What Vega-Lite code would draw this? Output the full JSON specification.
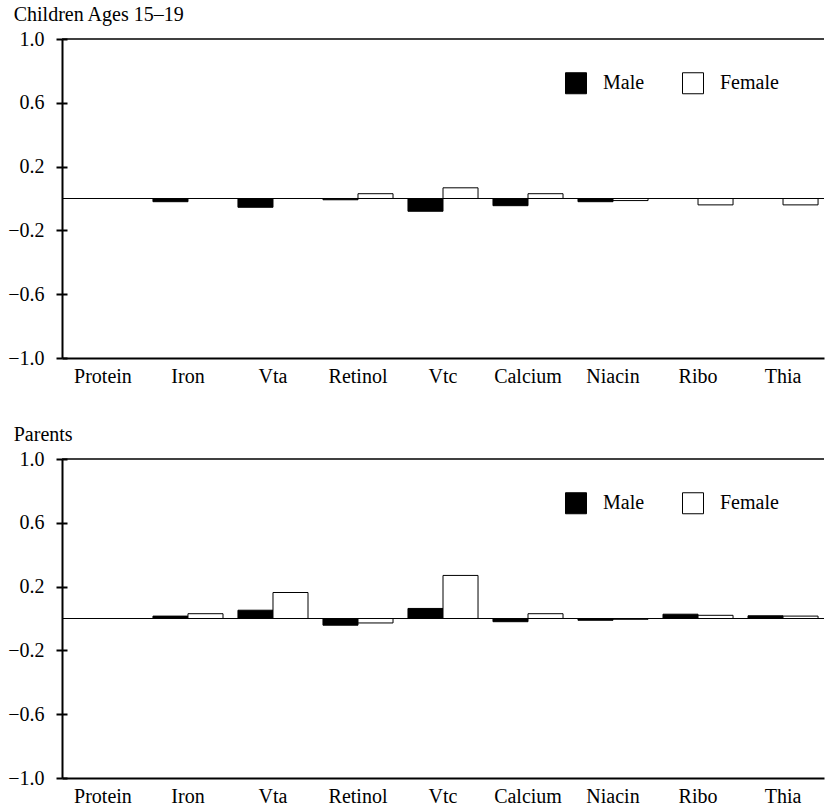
{
  "$schema": "https://vega.github.io/schema/vega-lite/v6.json",
  "padding": {"left": 7, "top": 5, "right": 0, "bottom": 0},
  "background": "white",
  "config": {
    "font": "Liberation Serif",
    "view": {"stroke": null},
    "axis": {"labelFont": "Liberation Serif", "labelFontSize": 20, "labelColor": "black", "domainColor": "black", "tickColor": "black", "title": null, "grid": false},
    "title": {"font": "Liberation Serif", "fontSize": 20, "fontWeight": "normal", "color": "black", "anchor": "start", "frame": "bounds", "offset": 4},
    "concat": {"spacing": 39},
    "legend": {"labelFont": "Liberation Serif", "labelFontSize": 20, "labelColor": "black"}
  },
  "datasets": {
    "nutrients": [
      {"panel": "Children", "nutrient": "Protein", "sex": "Male", "value": 0},
      {"panel": "Children", "nutrient": "Protein", "sex": "Female", "value": 0},
      {"panel": "Children", "nutrient": "Iron", "sex": "Male", "value": -0.02},
      {"panel": "Children", "nutrient": "Iron", "sex": "Female", "value": 0},
      {"panel": "Children", "nutrient": "Vta", "sex": "Male", "value": -0.055},
      {"panel": "Children", "nutrient": "Vta", "sex": "Female", "value": 0},
      {"panel": "Children", "nutrient": "Retinol", "sex": "Male", "value": -0.008},
      {"panel": "Children", "nutrient": "Retinol", "sex": "Female", "value": 0.03},
      {"panel": "Children", "nutrient": "Vtc", "sex": "Male", "value": -0.08},
      {"panel": "Children", "nutrient": "Vtc", "sex": "Female", "value": 0.067},
      {"panel": "Children", "nutrient": "Calcium", "sex": "Male", "value": -0.045},
      {"panel": "Children", "nutrient": "Calcium", "sex": "Female", "value": 0.03},
      {"panel": "Children", "nutrient": "Niacin", "sex": "Male", "value": -0.02},
      {"panel": "Children", "nutrient": "Niacin", "sex": "Female", "value": -0.013},
      {"panel": "Children", "nutrient": "Ribo", "sex": "Male", "value": 0},
      {"panel": "Children", "nutrient": "Ribo", "sex": "Female", "value": -0.04},
      {"panel": "Children", "nutrient": "Thia", "sex": "Male", "value": 0},
      {"panel": "Children", "nutrient": "Thia", "sex": "Female", "value": -0.04},
      {"panel": "Parents", "nutrient": "Protein", "sex": "Male", "value": 0},
      {"panel": "Parents", "nutrient": "Protein", "sex": "Female", "value": 0},
      {"panel": "Parents", "nutrient": "Iron", "sex": "Male", "value": 0.015},
      {"panel": "Parents", "nutrient": "Iron", "sex": "Female", "value": 0.03},
      {"panel": "Parents", "nutrient": "Vta", "sex": "Male", "value": 0.052},
      {"panel": "Parents", "nutrient": "Vta", "sex": "Female", "value": 0.163},
      {"panel": "Parents", "nutrient": "Retinol", "sex": "Male", "value": -0.042},
      {"panel": "Parents", "nutrient": "Retinol", "sex": "Female", "value": -0.028},
      {"panel": "Parents", "nutrient": "Vtc", "sex": "Male", "value": 0.063},
      {"panel": "Parents", "nutrient": "Vtc", "sex": "Female", "value": 0.27},
      {"panel": "Parents", "nutrient": "Calcium", "sex": "Male", "value": -0.02},
      {"panel": "Parents", "nutrient": "Calcium", "sex": "Female", "value": 0.03},
      {"panel": "Parents", "nutrient": "Niacin", "sex": "Male", "value": -0.011},
      {"panel": "Parents", "nutrient": "Niacin", "sex": "Female", "value": -0.005},
      {"panel": "Parents", "nutrient": "Ribo", "sex": "Male", "value": 0.027},
      {"panel": "Parents", "nutrient": "Ribo", "sex": "Female", "value": 0.02},
      {"panel": "Parents", "nutrient": "Thia", "sex": "Male", "value": 0.017},
      {"panel": "Parents", "nutrient": "Thia", "sex": "Female", "value": 0.015}
    ]
  },
  "resolve": {"scale": {"fill": "independent"}, "legend": {"fill": "independent"}},
  "vconcat": [
    {
      "title": {"text": "Children Ages 15–19", "dx": 6},
      "width": 762,
      "height": 319,
      "layer": [
        {
          "data": {"values": [{}]},
          "mark": {"type": "rule", "color": "black", "strokeWidth": 1},
          "encoding": {"y": {"datum": 0, "type": "quantitative", "scale": {"domain": [-1, 1], "nice": false}, "axis": {"orient": "left", "values": [1, 0.6, 0.2, -0.2, -0.6, -1], "labels": false, "domain": false, "ticks": true, "tickSize": -5, "tickWidth": 2}}}
        },
        {
          "data": {"values": [{}]},
          "mark": {"type": "rule", "color": "black", "strokeWidth": 1.5},
          "encoding": {"y": {"datum": 1, "type": "quantitative", "axis": null}}
        },
        {
          "data": {"name": "nutrients"},
          "transform": [{"filter": "datum.panel == 'Children'"}],
          "mark": {"type": "bar", "stroke": "black", "strokeWidth": 1},
          "encoding": {
            "x": {"field": "nutrient", "type": "nominal", "sort": ["Protein", "Iron", "Vta", "Retinol", "Vtc", "Calcium", "Niacin", "Ribo", "Thia"], "scale": {"paddingInner": 0.176, "paddingOuter": 0.07}, "axis": {"orient": "bottom", "ticks": false, "labelAngle": 0, "labelPadding": 8, "domainWidth": 2}},
            "xOffset": {"field": "sex", "type": "nominal", "sort": ["Male", "Female"], "scale": {"paddingInner": 0, "paddingOuter": 0}},
            "y": {"field": "value", "type": "quantitative", "scale": {"domain": [-1, 1], "nice": false}, "axis": {"orient": "left", "values": [1, 0.6, 0.2, -0.2, -0.6, -1], "format": ".1f", "ticks": true, "tickSize": 6, "tickWidth": 2, "domain": true, "domainWidth": 2, "labelPadding": 12}},
            "fill": {"field": "sex", "type": "nominal", "sort": ["Male", "Female"], "scale": {"domain": ["Male", "Female"], "range": ["black", "white"]}, "legend": {"orient": "none", "legendX": 503, "legendY": 33, "direction": "horizontal", "title": null, "symbolType": "square", "symbolSize": 441, "symbolStrokeColor": "black", "symbolStrokeWidth": 1, "labelOffset": 16, "columnPadding": 35, "padding": 0}}
          }
        }
      ],
      "resolve": {"axis": {"y": "independent"}}
    },
    {
      "title": {"text": "Parents", "dx": 6},
      "width": 762,
      "height": 319,
      "layer": [
        {
          "data": {"values": [{}]},
          "mark": {"type": "rule", "color": "black", "strokeWidth": 1},
          "encoding": {"y": {"datum": 0, "type": "quantitative", "scale": {"domain": [-1, 1], "nice": false}, "axis": {"orient": "left", "values": [1, 0.6, 0.2, -0.2, -0.6, -1], "labels": false, "domain": false, "ticks": true, "tickSize": -5, "tickWidth": 2}}}
        },
        {
          "data": {"values": [{}]},
          "mark": {"type": "rule", "color": "black", "strokeWidth": 1.5},
          "encoding": {"y": {"datum": 1, "type": "quantitative", "axis": null}}
        },
        {
          "data": {"name": "nutrients"},
          "transform": [{"filter": "datum.panel == 'Parents'"}],
          "mark": {"type": "bar", "stroke": "black", "strokeWidth": 1},
          "encoding": {
            "x": {"field": "nutrient", "type": "nominal", "sort": ["Protein", "Iron", "Vta", "Retinol", "Vtc", "Calcium", "Niacin", "Ribo", "Thia"], "scale": {"paddingInner": 0.176, "paddingOuter": 0.07}, "axis": {"orient": "bottom", "ticks": false, "labelAngle": 0, "labelPadding": 8, "domainWidth": 2}},
            "xOffset": {"field": "sex", "type": "nominal", "sort": ["Male", "Female"], "scale": {"paddingInner": 0, "paddingOuter": 0}},
            "y": {"field": "value", "type": "quantitative", "scale": {"domain": [-1, 1], "nice": false}, "axis": {"orient": "left", "values": [1, 0.6, 0.2, -0.2, -0.6, -1], "format": ".1f", "ticks": true, "tickSize": 6, "tickWidth": 2, "domain": true, "domainWidth": 2, "labelPadding": 12}},
            "fill": {"field": "sex", "type": "nominal", "sort": ["Male", "Female"], "scale": {"domain": ["Male", "Female"], "range": ["black", "white"]}, "legend": {"orient": "none", "legendX": 503, "legendY": 33, "direction": "horizontal", "title": null, "symbolType": "square", "symbolSize": 441, "symbolStrokeColor": "black", "symbolStrokeWidth": 1, "labelOffset": 16, "columnPadding": 35, "padding": 0}}
          }
        }
      ],
      "resolve": {"axis": {"y": "independent"}}
    }
  ]
}
